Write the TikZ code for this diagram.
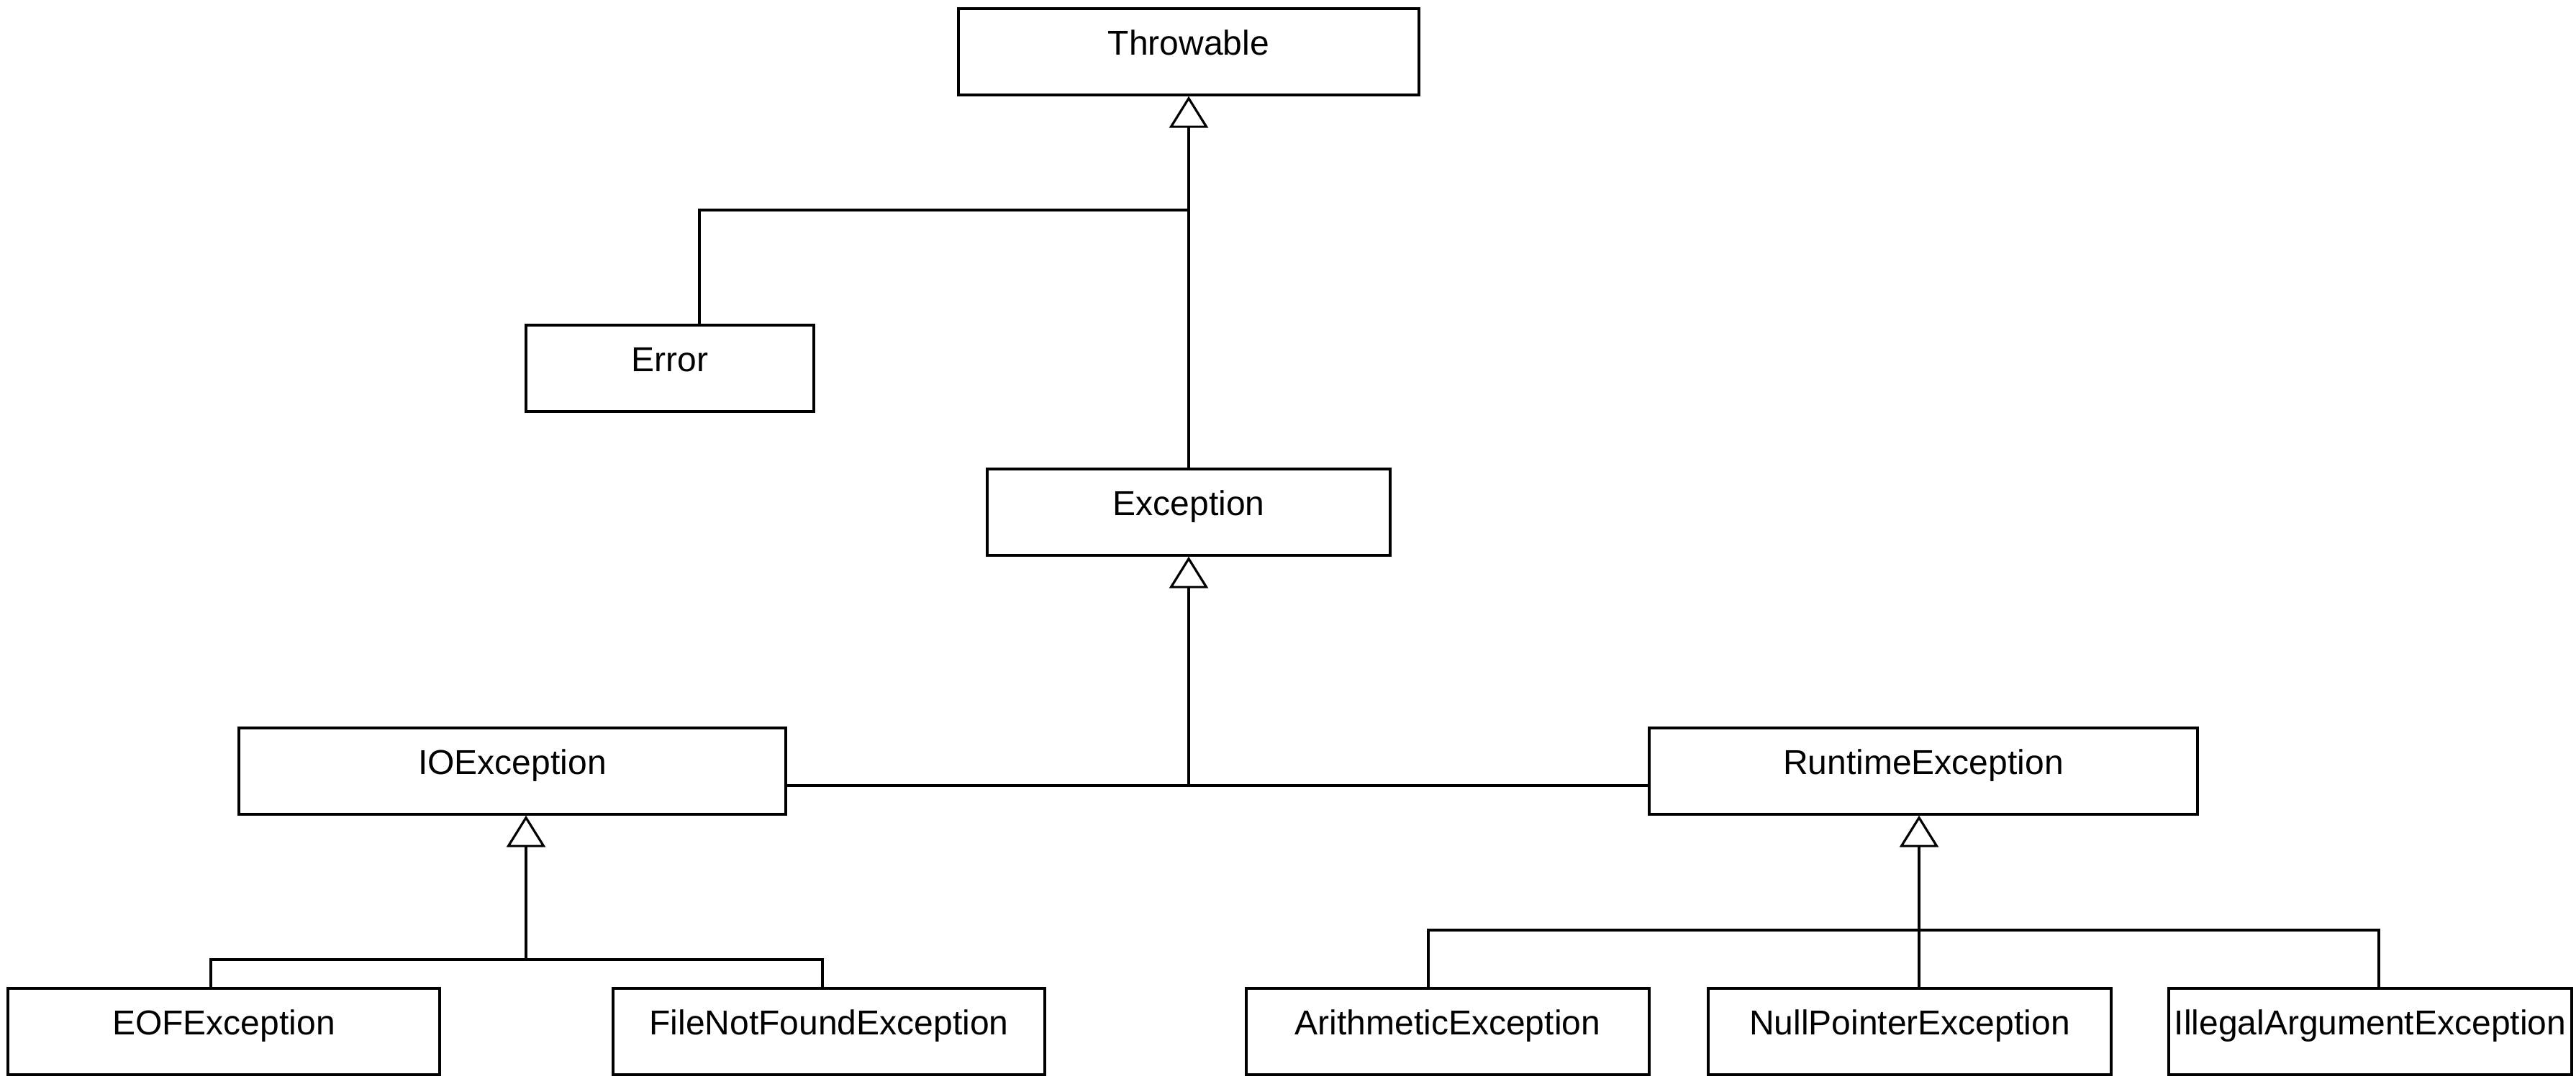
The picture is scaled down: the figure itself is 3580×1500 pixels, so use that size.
\documentclass[tikz,border=0pt]{standalone}
\usepackage{fontspec}
\setmainfont{Liberation Sans}
\usetikzlibrary{arrows.meta}
\tikzset{
  umlbox/.style={draw=black, line width=0.85pt, fill=white, rectangle, inner sep=0pt,
    minimum height=30pt, text height=0.75em, text depth=0.54em,
    font=\fontsize{12pt}{14pt}\selectfont},
  conn/.style={draw=black, line width=0.8pt},
  inh/.style={conn, -{Triangle[open, length=11pt, width=13.5pt, line width=0.8pt]}}
}
\begin{document}
\begin{tikzpicture}[x=0.25pt, y=-0.25pt]
\useasboundingbox (0,0) rectangle (3580,1500);
% boxes
\node[umlbox, minimum width=160pt] (thr) at (1652,72) {Throwable};
\node[umlbox, minimum width=100pt] (err) at (931,512) {Error};
\node[umlbox, minimum width=140pt] (exc) at (1652,712) {Exception};
\node[umlbox, minimum width=190pt] (io) at (712,1072) {IOException};
\node[umlbox, minimum width=190.5pt] (rt) at (2673,1072) {RuntimeException};
\node[umlbox, minimum width=150pt] (eof) at (311,1434) {EOFException};
\node[umlbox, minimum width=150pt] (fnf) at (1152,1434) {FileNotFoundException};
\node[umlbox, minimum width=140pt] (ari) at (2012,1434) {ArithmeticException};
\node[umlbox, minimum width=140pt] (npe) at (2654,1434) {NullPointerException};
\node[umlbox, minimum width=140pt] (iae) at (3294,1434) {IllegalArgumentException};
% junctions
\coordinate (j1) at (1652,292);
\coordinate (ej) at (972,292);
\coordinate (j2) at (1652,1092);
\coordinate (j3) at (731,1334);
\coordinate (eofd) at (293,1334);
\coordinate (fnfd) at (1143,1334);
\coordinate (j4) at (2667,1293);
\coordinate (arid) at (1985,1293);
\coordinate (iaed) at (3306,1293);
% Throwable level
\draw[inh] (exc.north) -- (thr.south);
\draw[conn] (ej |- err.north) -- (ej) -- (j1);
% Exception level
\draw[conn] (io.east |- j2) -- (rt.west |- j2);
\draw[inh] (j2) -- (exc.south);
% IOException level
\draw[inh] (j3) -- (j3 |- io.south);
\draw[conn] (eofd |- eof.north) -- (eofd) -- (fnfd) -- (fnfd |- fnf.north);
% RuntimeException level
\draw[inh] (j4 |- npe.north) -- (j4 |- rt.south);
\draw[conn] (arid |- ari.north) -- (arid) -- (iaed) -- (iaed |- iae.north);
\end{tikzpicture}
\end{document}
